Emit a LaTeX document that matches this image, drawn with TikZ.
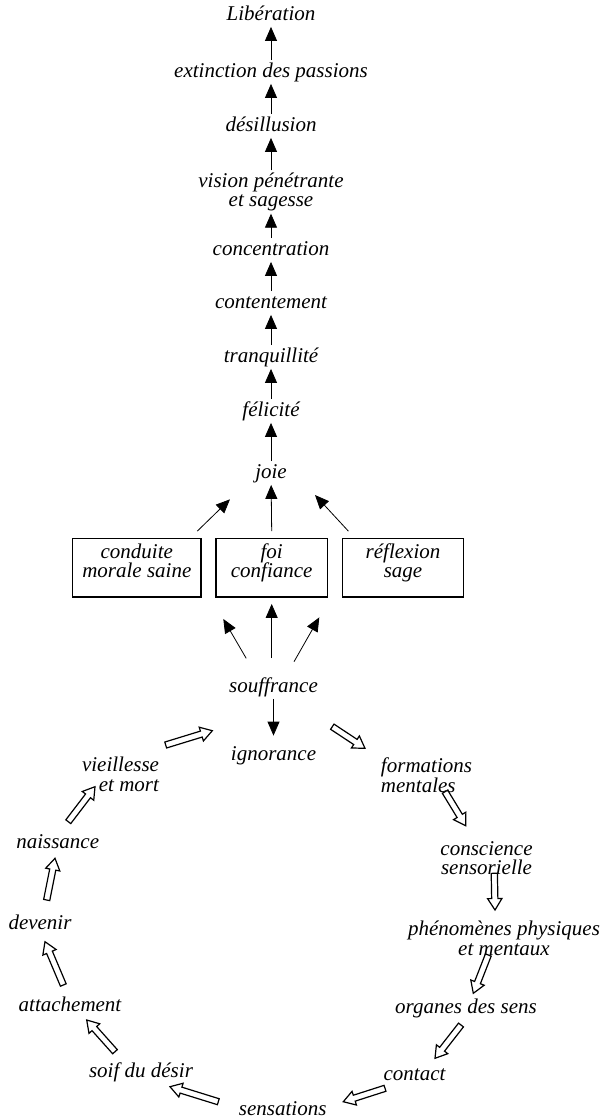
\documentclass[tikz,border=0pt]{standalone}
\usepackage{fontspec}
\setmainfont{Liberation Serif}
\usetikzlibrary{arrows.meta,calc}
% hollow block arrow from node #1 (shifted by #2) to node #3 (shifted by #4)
\def\hollow#1#2#3#4{%
  \path ([shift={(#2)}]#1.center) coordinate (ht) ([shift={(#4)}]#3.center) coordinate (hp);
  \coordinate (hn) at ($(hp)!11.5pt!(ht)$);
  \draw[line width=1.2pt, line join=miter] ($(ht)!3.1pt!90:(hp)$) -- ($(hn)!3.1pt!90:(hp)$)
    -- ($(hn)!7.2pt!90:(hp)$) -- (hp) -- ($(hn)!7.2pt!-90:(hp)$) -- ($(hn)!3.1pt!-90:(hp)$)
    -- ($(ht)!3.1pt!-90:(hp)$) -- cycle;}

\begin{document}
\begin{tikzpicture}[>={Triangle[width=12pt,length=14pt]}, line width=0.8pt,
  lbl/.style={font=\fontsize{21}{19.5}\selectfont\itshape, inner sep=2pt, text height=15pt, text depth=4pt},
  lbltwo/.style={font=\fontsize{21}{19.5}\selectfont\itshape, inner sep=2pt, align=center},
  virtue/.style={draw, line width=1.2pt, font=\fontsize{21}{19.5}\selectfont\itshape, align=center, inner sep=0pt, text height=38.8pt, text depth=19.5pt}]
\useasboundingbox (0,0) rectangle (604pt,-1120pt);
% path to liberation
\draw (271.0pt, -15.0pt)node[lbl](lib){Libération};
\draw (271.0pt, -72.0pt)node[lbl](ext){extinction des passions};
\draw (271.0pt, -126.0pt)node[lbl](des){désillusion};
\draw (271.0pt, -192.0pt)node[lbltwo](vis){vision pénétrante\\et sagesse};
\draw (271.0pt, -250.0pt)node[lbl](conc){concentration};
\draw (271.0pt, -303.0pt)node[lbl](cont){contentement};
\draw (271.0pt, -357.0pt)node[lbl](tranq){tranquillité};
\draw (271.0pt, -411.0pt)node[lbl](fel){félicité};
\draw (271.0pt, -473.0pt)node[lbl](joie){joie};
\draw (136.8pt, -567.9pt)node[virtue,minimum width=128.3pt](cms){conduite\\morale saine};
\draw (271.7pt, -567.9pt)node[virtue,minimum width=111.3pt](foi){foi\\confiance};
\draw (403.0pt, -567.9pt)node[virtue,minimum width=120.6pt](refl){réflexion\\sage};
\path[->] (ext) edge (lib);
\path[->] (des) edge (ext);
\path[->] (vis) edge (des);
\path[->] (conc) edge (vis);
\path[->] (cont) edge (conc);
\path[->] (tranq) edge (cont);
\path[->] (fel) edge (tranq);
\path[->] (joie) edge (fel);
\path[->] ([shift={(-4.3pt,7pt)}]cms.north east) edge ([shift={(-41pt,-26.3pt)}]joie.center);
\path[->] ([yshift=7pt]foi.north) edge (joie);
\path[->] ([shift={(6.3pt,7pt)}]refl.north west) edge ([shift={(44pt,-22pt)}]joie.center);
% wheel of dependent origination
\draw (273.5pt, -687.0pt)node[lbl](souf){souffrance};
\draw (273.5pt, -754.5pt)node[lbl](ign){ignorance};
\draw (426.5pt, -775.0pt)node[lbltwo,align=left](form){formations\\mentales};
\draw (486.5pt, -858.0pt)node[lbltwo](consc){conscience\\sensorielle};
\draw (504.0pt, -938.3pt)node[lbltwo](phen){phénomènes physiques\\et mentaux};
\draw (466.0pt, -1008.3pt)node[lbl](org){organes des sens};
\draw (414.5pt, -1075.0pt)node[lbl](contact){contact};
\draw (282.7pt, -1110.0pt)node[lbl](sens){sensations};
\draw (141.0pt, -1071.7pt)node[lbl](soif){soif du désir};
\draw (70.0pt, -1006.0pt)node[lbl](att){attachement};
\draw (40.0pt, -924.3pt)node[lbl](dev){devenir};
\draw (57.7pt, -842.7pt)node[lbl](nais){naissance};
\draw (120.5pt, -774.5pt)node[lbltwo,align=right](vieil){vieillesse\\et mort};
\path[->] ([shift={(-27.3pt,28.7pt)}]souf.center) edge ([shift={(-48.4pt,-21.3pt)}]foi.south);
\path[->] ([shift={(-1.8pt,29pt)}]souf.center) edge ([yshift=-6.3pt]foi.south);
\path[->] ([shift={(20.5pt,25.3pt)}]souf.center) edge ([shift={(47.6pt,-19.7pt)}]foi.south);
\path[->] (souf) edge ([yshift=7pt]ign.north);
\hollow{vieil}{45.2pt,29.5pt}{souf}{-61.2pt,-43.7pt}
\hollow{ign}{58.8pt,27.8pt}{form}{-61.5pt,26.7pt}
\hollow{form}{18.5pt,-16.7pt}{consc}{-20.8pt,32.3pt}
\hollow{consc}{7.8pt,-15.3pt}{phen}{-9pt,28.3pt}
\hollow{phen}{-15.7pt,-16.7pt}{org}{7.3pt,15pt}
\hollow{org}{-5pt,-16.7pt}{contact}{20.5pt,16.7pt}
\hollow{contact}{-29.5pt,-13.3pt}{sens}{60.6pt,8.3pt}
\hollow{sens}{-64.4pt,8.3pt}{soif}{29pt,-15pt}
\hollow{soif}{-26pt,20pt}{att}{16.7pt,-14pt}
\hollow{att}{-6.7pt,21pt}{dev}{5pt,-17.4pt}
\hollow{dev}{6.7pt,24.3pt}{nais}{-2.7pt,-15.6pt}
\hollow{nais}{10.6pt,21pt}{vieil}{-25.5pt,-12.2pt}
\end{tikzpicture}
\end{document}
